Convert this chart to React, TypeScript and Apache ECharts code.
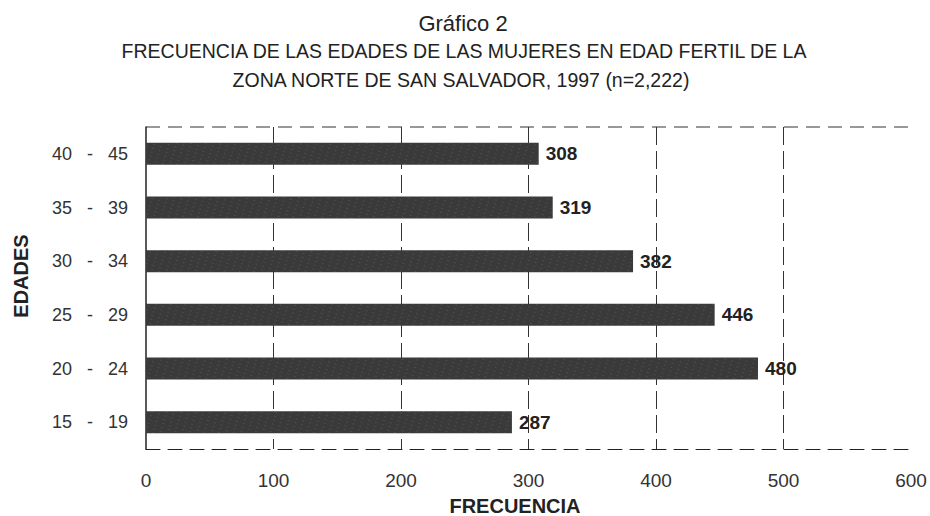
import React, { useEffect, useRef } from "react";
import * as echarts from "echarts";

const categories = ["15 - 19", "20 - 24", "25 - 29", "30 - 34", "35 - 39", "40 - 45"];
const values = [287, 480, 446, 382, 319, 308];
const titleLines = [
  "Gráfico 2",
  "FRECUENCIA DE LAS EDADES DE LAS MUJERES EN EDAD FERTIL DE LA",
  "ZONA NORTE DE SAN SALVADOR, 1997 (n=2,222)",
];
const xAxisName = "FRECUENCIA";
const yAxisName = "EDADES";
const xTicks = { min: 0, max: 600, interval: 100 };

export default function App() {
  const ref = useRef<HTMLDivElement>(null);
  useEffect(() => {
    if (!ref.current) return;
    const chart = echarts.init(ref.current, null, { renderer: "svg" });
    const font = "'Liberation Sans', Arial, sans-serif";
    const ink = "#222";
    chart.setOption({
      animation: false,
      backgroundColor: "#ffffff",
      grid: { left: 146, right: 19, top: 127, bottom: 67, containLabel: false },
      xAxis: {
        type: "value",
        min: xTicks.min,
        max: xTicks.max,
        interval: xTicks.interval,
        axisLine: { show: true, lineStyle: { color: "#222", width: 1, type: [14, 8] } },
        axisTick: { show: false },
        splitLine: {
          show: true,
          showMinLine: false,
          showMaxLine: false,
          lineStyle: { color: "#333", width: 1, type: [18, 6] },
        },
        axisLabel: { fontFamily: font, fontSize: 19, color: "#333", margin: 22 },
      },
      yAxis: {
        type: "category",
        data: categories,
        axisLine: { show: true, lineStyle: { color: "#222", width: 1.5 } },
        axisTick: { show: false },
        axisLabel: {
          fontFamily: font,
          fontSize: 18,
          color: "#333",
          margin: 18,
          formatter: (v: string) => v.replace(" - ", "   -   "),
        },
        splitLine: { show: false },
      },
      graphic: [
        {
          type: "line",
          shape: { x1: 146, y1: 127, x2: 911, y2: 127 },
          style: { stroke: "#333", lineWidth: 1, lineDash: [14, 8] },
        },
        {
          type: "text",
          x: 463,
          y: 23,
          style: {
            text: titleLines[0],
            font: `22px ${font}`,
            fill: ink,
            textAlign: "center",
            textVerticalAlign: "middle",
          },
        },
        {
          type: "text",
          x: 464,
          y: 51,
          style: {
            text: titleLines[1],
            font: `19.5px ${font}`,
            fill: ink,
            textAlign: "center",
            textVerticalAlign: "middle",
          },
        },
        {
          type: "text",
          x: 461,
          y: 80,
          style: {
            text: titleLines[2],
            font: `19.5px ${font}`,
            fill: ink,
            textAlign: "center",
            textVerticalAlign: "middle",
          },
        },
        {
          type: "text",
          x: 515,
          y: 506,
          style: {
            text: xAxisName,
            font: `bold 20px ${font}`,
            fill: ink,
            textAlign: "center",
            textVerticalAlign: "middle",
          },
        },
        {
          type: "text",
          x: 21,
          y: 276,
          rotation: Math.PI / 2,
          style: {
            text: yAxisName,
            font: `bold 20px ${font}`,
            fill: ink,
            textAlign: "center",
            textVerticalAlign: "middle",
          },
        },
      ],
      series: [
        {
          type: "bar",
          data: values,
          barWidth: 22,
          itemStyle: {
            color: "#3a3a3a",
            decal: {
              symbol: "rect",
              symbolSize: 0.5,
              color: "rgba(255,255,255,0.35)",
              dashArrayX: [2, 5],
              dashArrayY: [1, 3],
              rotation: 0.3,
            },
          },
          label: {
            show: true,
            position: "right",
            distance: 7,
            fontFamily: font,
            fontSize: 19,
            fontWeight: "bold",
            color: "#222",
          },
        },
      ],
    });
    return () => chart.dispose();
  }, []);
  return <div ref={ref} style={{ width: 930, height: 516, position: "absolute", left: 0, top: 0 }} />;
}
